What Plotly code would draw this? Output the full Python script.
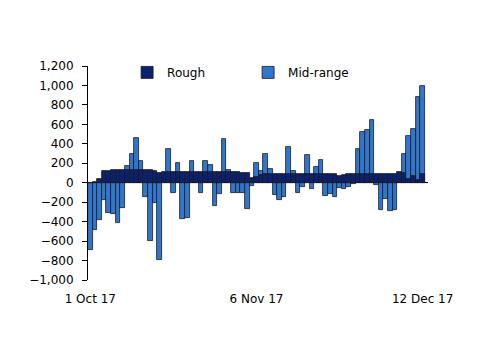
import plotly.graph_objects as go
import pandas as pd

dates = pd.date_range("2017-10-01", periods=73, freq="D")

mid_range = [-695, -490, -378, -182, -316, -325, -410, -255, 175, 295,
             455, 222, -150, -594, -212, -796, 50, 350, -108, 199,
             -370, -360, 223, 60, -110, 226, 182, -236, -113, 452,
             130, -103, -110, -106, -272, -37, 202, 125, 295, 145,
             -127, -180, -150, 370, 120, -110, -40, 287, -68, 165,
             229, -140, -118, -149, -52, -66, -48, -17, 342, 520,
             541, 640, -28, -281, -168, -292, -279, 20, 298, 483,
             550, 885, 995]

rough = [0, 5, 40, 125, 125, 127, 130, 130, 128, 130,
         130, 128, 128, 127, 122, 103, 113, 110, 106, 106,
         106, 106, 106, 106, 106, 106, 106, 106, 106, 106,
         106, 106, 106, 104, 100, 45, 55, 80, 90, 90,
         90, 90, 90, 90, 90, 90, 90, 90, 90, 90,
         90, 88, 88, 85, 72, 78, 85, 88, 88, 88,
         88, 88, 88, 88, 88, 88, 88, 108, 95, 40,
         70, 30, 88]

y_ticks = [-1000, -800, -600, -400, -200, 0, 200, 400, 600, 800, 1000, 1200]
x_ticks = ["2017-10-01", "2017-11-06", "2017-12-12"]
x_tick_labels = ["1 Oct 17", "6 Nov 17", "12 Dec 17"]

fig = go.Figure()
fig.add_trace(go.Bar(x=dates, y=mid_range, name="Mid-range",
                     marker=dict(color="#2F76CC", line=dict(color="#1a1a1a", width=0.8))))
fig.add_trace(go.Bar(x=dates, y=rough, name="Rough",
                     marker=dict(color="#0B2170", line=dict(color="#1a1a1a", width=0.8))))

fig.update_layout(
    width=500, height=354,
    margin=dict(l=88, r=72, t=66, b=74),
    paper_bgcolor="white", plot_bgcolor="white",
    barmode="overlay", bargap=0,
    font=dict(family="DejaVu Sans", size=12, color="black"),
    legend=dict(orientation="h", x=0.115, y=0.97, xanchor="left", yanchor="middle",
                traceorder="reversed", entrywidth=76, itemwidth=30,
                bgcolor="rgba(0,0,0,0)", font=dict(size=12)),
)
fig.update_xaxes(
    range=["2017-09-30 12:00", "2017-12-13 04:00"],
    tickvals=x_ticks, ticktext=x_tick_labels,
    showgrid=False, showline=False, zeroline=False,
    ticks="", ticklabelstandoff=10,
)
fig.update_yaxes(
    range=[-1000, 1200], tickvals=y_ticks, tickformat=",",
    showgrid=False, showline=True, linecolor="black", linewidth=1,
    ticks="outside", ticklen=5, tickcolor="black",
    zeroline=True, zerolinecolor="black", zerolinewidth=1,
    ticklabelstandoff=6,
)

fig.write_html("out.html")
